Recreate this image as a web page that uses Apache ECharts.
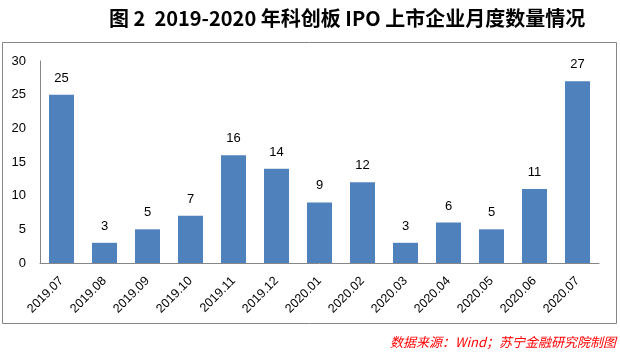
<!DOCTYPE html>
<html>
<head>
<meta charset="utf-8">
<script src="https://cdn.jsdelivr.net/npm/echarts@6/dist/echarts.min.js"></script>
<style>html,body{margin:0;padding:0;background:#fff}#c{width:620px;height:355px}</style>
</head>
<body>
<div id="c"></div>
<script>
const categories = ['2019.07','2019.08','2019.09','2019.10','2019.11','2019.12','2020.01','2020.02','2020.03','2020.04','2020.05','2020.06','2020.07'];
const ipoCounts = [25,3,5,7,16,14,9,12,3,6,5,11,27];
const titleText = '图 2  2019-2020 年科创板 IPO 上市企业月度数量情况';
const sourceText = '数据来源：Wind；苏宁金融研究院制图';

const chart = echarts.init(document.getElementById('c'), null, {renderer:'canvas'});
chart.setOption({
  animation:false,
  backgroundColor:'#fff',
  textStyle:{fontFamily:'"Noto Sans CJK SC", "DejaVu Sans", sans-serif'},
  title:{
    text:titleText,
    left:104, top:3,
    textStyle:{fontSize:20, fontWeight:'bold', color:'#000', fontFamily:'"Noto Sans CJK SC", sans-serif'}
  },
  graphic:[
    {type:'rect', shape:{x:2.5,y:42.5,width:614,height:281}, style:{fill:'none', stroke:'#868686', lineWidth:1}, z:-1},
    {type:'text', right:4, top:336, style:{text:sourceText, fill:'#ff0000', font:'italic 13px "Noto Sans CJK SC", sans-serif'}}
  ],
  grid:{left:40, right:21, top:61, bottom:92, containLabel:false},
  xAxis:{
    type:'category', data:categories,
    axisLine:{show:true, lineStyle:{color:'#868686', width:1}},
    axisTick:{show:false},
    axisLabel:{interval:0, rotate:45, margin:16, fontSize:12.5, color:'#000', fontFamily:'"Liberation Sans", "DejaVu Sans", sans-serif'}
  },
  yAxis:{
    type:'value', min:0, max:30, interval:5,
    axisLine:{show:true, lineStyle:{color:'#868686', width:1}},
    axisTick:{show:false},
    splitLine:{show:false},
    axisLabel:{margin:14, fontSize:13, color:'#000', fontFamily:'"Liberation Sans", "DejaVu Sans", sans-serif'}
  },
  series:[{
    type:'bar', data:ipoCounts, barWidth:25,
    itemStyle:{color:'#4F81BD'},
    label:{show:true, position:'top', distance:10, fontSize:13, color:'#000', fontFamily:'"Liberation Sans", "DejaVu Sans", sans-serif'}
  }]
});
</script>
</body>
</html>
